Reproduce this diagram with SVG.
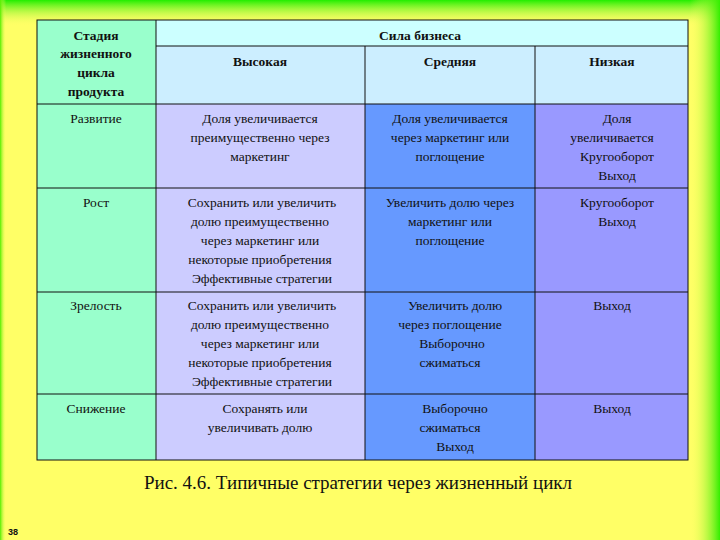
<svg xmlns="http://www.w3.org/2000/svg" width="720" height="540" viewBox="0 0 720 540" font-family="Liberation Serif, Tinos, Times New Roman, DejaVu Serif, serif">
<defs>
<linearGradient id="gt" x1="0" y1="0" x2="0" y2="1"><stop offset="0" stop-color="#22ee00"/><stop offset="1" stop-color="#ffff66" stop-opacity="0"/></linearGradient>
<linearGradient id="gr" x1="0" y1="0" x2="1" y2="0"><stop offset="0" stop-color="#ffff66" stop-opacity="0"/><stop offset="1" stop-color="#33ee00"/></linearGradient>
<linearGradient id="gl" x1="0" y1="0" x2="1" y2="0"><stop offset="0" stop-color="#55ee00"/><stop offset="1" stop-color="#ffff66" stop-opacity="0"/></linearGradient>
</defs>
<style>
text{font-family:'Liberation Serif',Tinos,'Times New Roman','DejaVu Serif',serif;font-size:13.5px;fill:#111;text-anchor:middle}
.b{font-weight:bold}
.cap{font-size:19px}
.pg{font-family:'Liberation Sans',sans-serif;font-size:9px;font-weight:bold}
line{stroke:#111;stroke-width:1}
</style>
<rect width="720" height="540" fill="#ffff66"/>
<rect width="720" height="26" fill="url(#gt)"/>
<rect x="690" width="30" height="540" fill="url(#gr)"/>
<rect width="6" height="540" fill="url(#gl)"/>
<g id="cells">
<rect x="37" y="20" width="119" height="440" fill="#99ffcc"/>
<rect x="156" y="20" width="532" height="26" fill="#ccffff"/>
<rect x="156" y="46" width="532" height="58" fill="#cceeff"/>
<rect x="156" y="104" width="209" height="356" fill="#ccccff"/>
<rect x="365" y="104" width="170" height="356" fill="#6699ff"/>
<rect x="535" y="104" width="153" height="356" fill="#9999ff"/>
</g>
<g id="grid">
<rect x="37" y="20" width="651" height="440" fill="none" stroke="#111"/>
<line x1="156" y1="20" x2="156" y2="460"/>
<line x1="365" y1="46" x2="365" y2="460"/>
<line x1="535" y1="46" x2="535" y2="460"/>
<line x1="156" y1="46" x2="688" y2="46"/>
<line x1="37" y1="104" x2="688" y2="104"/>
<line x1="37" y1="188" x2="688" y2="188"/>
<line x1="37" y1="292" x2="688" y2="292"/>
<line x1="37" y1="394" x2="688" y2="394"/>
</g>
<g id="header">
<text class="b" x="96" y="40">Стадия</text>
<text class="b" x="96" y="58">жизненного</text>
<text class="b" x="96" y="77">цикла</text>
<text class="b" x="96" y="96">продукта</text>
<text class="b" x="420" y="40">Сила бизнеса</text>
<text class="b" x="260" y="66">Высокая</text>
<text class="b" x="450" y="66">Средняя</text>
<text class="b" x="612" y="66">Низкая</text>
</g>
<g id="row1">
<text x="96" y="123">Развитие</text>
<text x="260" y="123">Доля увеличивается</text>
<text x="260" y="142">преимущественно через</text>
<text x="260" y="161">маркетинг</text>
<text x="450" y="123">Доля увеличивается</text>
<text x="450" y="142">через маркетинг или</text>
<text x="450" y="161">поглощение</text>
<text x="617" y="123">Доля</text>
<text x="612" y="142">увеличивается</text>
<text x="617" y="161">Кругооборот</text>
<text x="617" y="180">Выход</text>
</g>
<g id="row2">
<text x="96" y="207">Рост</text>
<text x="262" y="207">Сохранить или увеличить</text>
<text x="260" y="226">долю преимущественно</text>
<text x="260" y="245">через маркетинг или</text>
<text x="260" y="264">некоторые приобретения</text>
<text x="262" y="283">Эффективные стратегии</text>
<text x="450" y="207">Увеличить долю через</text>
<text x="450" y="226">маркетинг или</text>
<text x="450" y="245">поглощение</text>
<text x="617" y="207">Кругооборот</text>
<text x="617" y="226">Выход</text>
</g>
<g id="row3">
<text x="96" y="310">Зрелость</text>
<text x="262" y="310">Сохранить или увеличить</text>
<text x="260" y="329">долю преимущественно</text>
<text x="260" y="348">через маркетинг или</text>
<text x="260" y="367">некоторые приобретения</text>
<text x="262" y="386">Эффективные стратегии</text>
<text x="455" y="310">Увеличить долю</text>
<text x="450" y="329">через поглощение</text>
<text x="452" y="348">Выборочно</text>
<text x="450" y="367">сжиматься</text>
<text x="612" y="310">Выход</text>
</g>
<g id="row4">
<text x="96" y="413">Снижение</text>
<text x="265" y="413">Сохранять или</text>
<text x="260" y="432">увеличивать долю</text>
<text x="455" y="413">Выборочно</text>
<text x="450" y="432">сжиматься</text>
<text x="455" y="451">Выход</text>
<text x="612" y="413">Выход</text>
</g>
<text class="cap" x="358" y="489">Рис. 4.6. Типичные стратегии через жизненный цикл</text>
<text class="pg" x="13" y="535">38</text>
</svg>
